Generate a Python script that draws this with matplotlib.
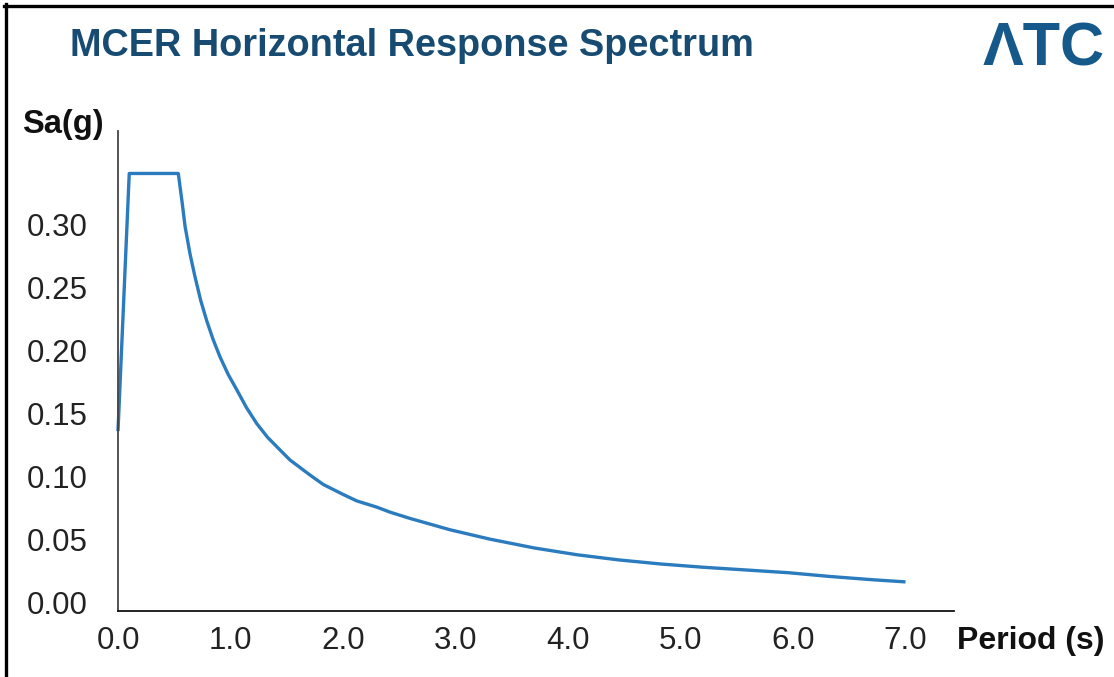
import matplotlib
matplotlib.use("Agg")
import matplotlib.pyplot as plt
from matplotlib.lines import Line2D

# ---- data ----
period = [0.0, 0.1, 0.536, 0.57, 0.596, 0.64, 0.684, 0.735, 0.788, 0.845, 0.907,
          0.98, 1.055, 1.14, 1.233, 1.33, 1.44, 1.529, 1.707, 1.825, 2.003, 2.121,
          2.30, 2.418, 2.596, 2.714, 2.95, 3.307, 3.70, 4.08, 4.45, 4.83, 5.21,
          5.58, 5.96, 6.33, 6.71, 7.0]
sa = [0.136, 0.341, 0.341, 0.318, 0.299, 0.277, 0.259, 0.240, 0.224, 0.209, 0.195,
      0.181, 0.169, 0.155, 0.142, 0.131, 0.121, 0.113, 0.101, 0.0935, 0.0855, 0.0805,
      0.0755, 0.0715, 0.0665, 0.0635, 0.0575, 0.0500, 0.0430, 0.0376, 0.0335, 0.0302,
      0.0276, 0.0255, 0.0233, 0.0203, 0.0177, 0.016]
x_ticks = [0, 1, 2, 3, 4, 5, 6, 7]
x_tick_labels = ["0.0", "1.0", "2.0", "3.0", "4.0", "5.0", "6.0", "7.0"]
y_ticks = [0.0, 0.05, 0.10, 0.15, 0.20, 0.25, 0.30]
y_tick_labels = ["0.00", "0.05", "0.10", "0.15", "0.20", "0.25", "0.30"]

title = "MCER Horizontal Response Spectrum"
y_label = "Sa(g)"
x_label = "Period (s)"
logo = "ΛTC"

plt.rcParams['font.family'] = ['Liberation Sans', 'DejaVu Sans']

W, H = 1114, 677
fig = plt.figure(figsize=(W / 100, H / 100), dpi=100)
fig.patch.set_facecolor("white")

ax = fig.add_axes([118 / W, 66 / H, 836 / W, 480 / H])
ax.plot(period, sa, color="#2b7bbf", lw=2.4, clip_on=False,
        solid_joinstyle="round", solid_capstyle="butt")
ax.set_xlim(0, 7.431)
ax.set_ylim(-0.00716, 0.3748)
for s in ("top", "right"):
    ax.spines[s].set_visible(False)
ax.spines["left"].set_color("#444444")
ax.spines["bottom"].set_color("#111111")
ax.spines["left"].set_linewidth(1.3)
ax.spines["bottom"].set_linewidth(1.3)

ax.set_xticks(x_ticks)
ax.set_xticklabels(x_tick_labels)
ax.set_yticks(y_ticks)
ax.set_yticklabels(y_tick_labels)
ax.tick_params(axis="both", length=0, labelsize=22.5, colors="#222222")
ax.tick_params(axis="y", pad=22)
ax.tick_params(axis="x", pad=11)

fig.text(22 / W, 1 - 124 / H, y_label, fontsize=23.5, fontweight="bold",
         color="#111111", ha="left", va="center")
fig.text(957 / W, 1 - 641 / H, x_label, fontsize=23, fontweight="bold",
         color="#111111", ha="left", va="center")
fig.text(70 / W, 1 - 46 / H, title, fontsize=27.3, fontweight="bold",
         color="#174b72", ha="left", va="center")
fig.text(1044 / W, 1 - 50 / H, logo, fontsize=44, fontweight="bold",
         color="#15598b", ha="center", va="center")

# frame lines (left and top) of the screenshot
fig.add_artist(Line2D([5.5 / W, 5.5 / W], [0, 1 - 4 / H], color="black", lw=2.4,
                      transform=fig.transFigure))
fig.add_artist(Line2D([4 / W, 1], [1 - 5.5 / H, 1 - 5.5 / H], color="black", lw=2.4,
                      transform=fig.transFigure))

fig.savefig("out.png", dpi=100, facecolor="white")
